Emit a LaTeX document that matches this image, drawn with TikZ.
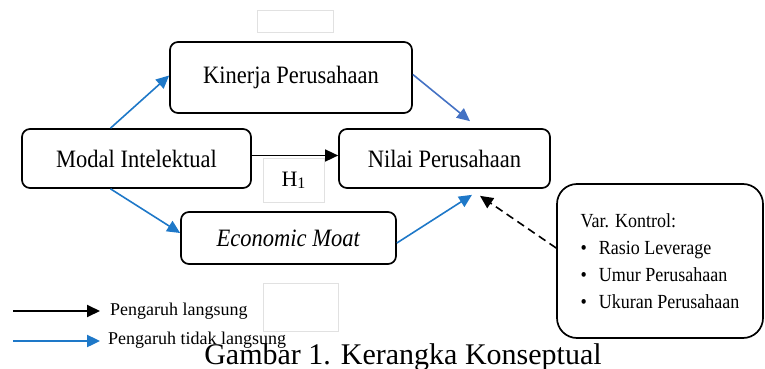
\documentclass[tikz,border=0pt]{standalone}
\usepackage{fontspec}
\setmainfont{Liberation Serif}
\newfontfamily\condensed{Liberation Serif}[FakeStretch=0.9]
\usetikzlibrary{arrows.meta,calc}
\definecolor{blueA}{RGB}{30,120,200}
\definecolor{blueB}{RGB}{68,114,196}
\definecolor{faint}{RGB}{225,225,225}
\begin{document}
\begin{tikzpicture}[x=1pt,y=-1pt,
  box/.style={draw=black,line width=1.7pt,rounded corners=8pt,fill=white,inner sep=0pt,
    font=\condensed\fontsize{25}{27}\selectfont},
  blank/.style={draw=faint,line width=0.8pt,inner sep=0pt},
  tip/.style={-{Triangle[length=13pt,width=12pt]}},
  direct/.style={tip,draw=black,line width=1.6pt},
  indirect/.style={tip,draw=blueA,line width=1.6pt},
  indirectB/.style={tip,draw=blueB,line width=1.6pt},
  legtext/.style={anchor=west,inner sep=0pt,font=\fontsize{18}{20}\selectfont}]
\useasboundingbox (0,0) rectangle (765,369);
% faint empty boxes
\node[blank,minimum width=76pt,minimum height=22pt] (blankTop) at (295,21) {};
\node[blank,minimum width=75pt,minimum height=48pt] (blankLeg) at (300.5,307) {};
\node[blank,minimum width=61pt,minimum height=44pt,font=\fontsize{22}{24}\selectfont] (h1) at (293.5,180)
  {H\raisebox{-2pt}{\fontsize{16}{16}\selectfont 1}};
% main boxes
\node[box,minimum width=242pt,minimum height=71pt] (kin) at (291,77.5) {Kinerja Perusahaan};
\node[box,minimum width=229pt,minimum height=59pt] (modal) at (136.5,158.5) {Modal Intelektual};
\node[box,minimum width=211pt,minimum height=59pt] (nilai) at (444.5,158.5) {Nilai Perusahaan};
\node[box,minimum width=215pt,minimum height=52pt] (econ) at (288.5,238) {\textit{Economic Moat}};
\node[box,rounded corners=20pt,minimum width=206pt,minimum height=154pt,align=left,
  font=\condensed\fontsize{20}{27}\selectfont] (var) at (660,261)
  {Var. Kontrol:\\
   \textbullet\hspace{12pt}Rasio Leverage\\
   \textbullet\hspace{12pt}Umur Perusahaan\\
   \textbullet\hspace{12pt}Ukuran Perusahaan};
% connectors
\draw[direct] ([yshift=3pt]modal.east) -- ([yshift=3pt]nilai.west);
\draw[indirect] ([xshift=-26pt]modal.north) -- ([yshift=2pt]kin.west);
\draw[indirect] ([xshift=-26pt]modal.south) -- ([yshift=5pt]econ.west);
\draw[indirectB] ([yshift=3pt]kin.east) -- ([xshift=25.5pt,yshift=7pt]nilai.north);
\draw[indirect] ([yshift=-5pt]econ.east) -- ([xshift=27.5pt,yshift=-6pt]nilai.south);
\draw[direct,dashed,dash pattern=on 8pt off 5pt] ([yshift=13pt]var.west) -- ([xshift=35.5pt,yshift=-7pt]nilai.south);
% legend
\coordinate (l1a) at (13,311);
\coordinate (l1b) at (100,311);
\coordinate (l2a) at (13,341);
\coordinate (l2b) at (100,341);
\draw[direct,line width=2pt] (l1a) -- (l1b);
\draw[indirect,line width=2.4pt] (l2a) -- (l2b);
\node[legtext] (lt1) at (110,311) {Pengaruh langsung};
\node[legtext] (lt2) at (108,340) {Pengaruh tidak langsung};
% caption
\node[anchor=base,inner sep=0pt,font=\fontsize{30}{32}\selectfont] (cap) at (403,364) {Gambar 1. Kerangka Konseptual};
\end{tikzpicture}
\end{document}
